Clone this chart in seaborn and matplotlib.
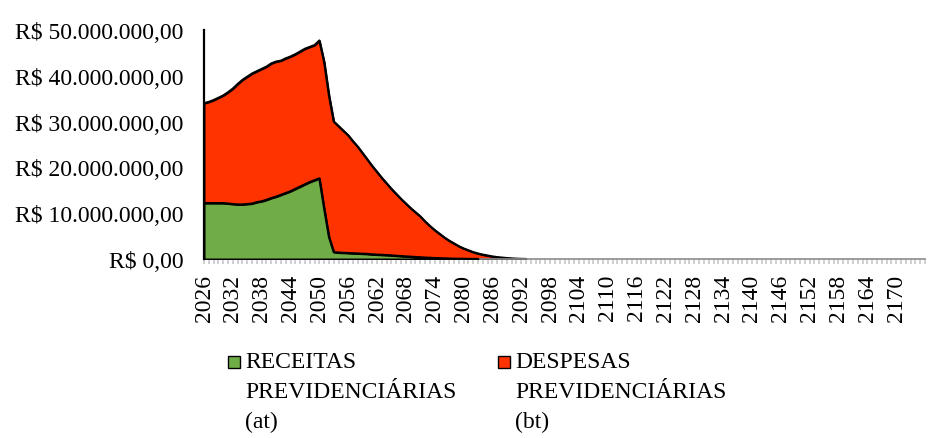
import matplotlib
matplotlib.use("Agg")
import matplotlib.pyplot as plt
import seaborn as sns
import pandas as pd
import numpy as np
from matplotlib.patches import Rectangle
from matplotlib.ticker import FuncFormatter, FixedLocator, MultipleLocator

# ---------------- data (values in millions of R$) ----------------
first_year = 2026
last_year = 2176

receitas_mi = [
    12.2, 12.2, 12.2, 12.2, 12.2, 12.1, 12.0, 11.9, 11.9, 12.0,   # 2026-2035
    12.1, 12.4, 12.6, 12.9, 13.3, 13.6, 14.0, 14.4, 14.8, 15.3,   # 2036-2045
    15.8, 16.3, 16.8, 17.2, 17.6, 11.0, 4.8, 1.5, 1.4, 1.35,      # 2046-2055
    1.3, 1.25, 1.2, 1.15, 1.1, 1.0, 0.95, 0.9, 0.85, 0.78,        # 2056-2065
    0.7, 0.63, 0.56, 0.5, 0.43, 0.37, 0.31, 0.26, 0.21, 0.17,     # 2066-2075
    0.13, 0.1, 0.07, 0.05, 0.03, 0.02, 0.01, 0.0,                 # 2076-2083
]

despesas_mi = [
    34.0, 34.3, 34.7, 35.2, 35.7, 36.4, 37.2, 38.2, 39.1, 39.8,   # 2026-2035
    40.5, 41.0, 41.5, 42.0, 42.7, 43.1, 43.3, 43.8, 44.2, 44.7,   # 2036-2045
    45.3, 45.9, 46.3, 46.7, 47.7, 43.0, 35.7, 30.0, 29.0, 28.0,   # 2046-2055
    27.0, 25.7, 24.5, 23.1, 21.7, 20.3, 19.0, 17.7, 16.5, 15.3,   # 2056-2065
    14.2, 13.1, 12.1, 11.1, 10.2, 9.3, 8.2, 7.2, 6.3, 5.5,        # 2066-2075
    4.7, 4.0, 3.4, 2.8, 2.3, 1.9, 1.5, 1.2, 0.95, 0.75,           # 2076-2085
    0.55, 0.4, 0.3, 0.2, 0.12, 0.06, 0.02, 0.0,                   # 2086-2093
]

tick_years = list(range(2026, 2171, 6))
y_ticks_mi = [0, 10, 20, 30, 40, 50]
legend_labels = ["RECEITAS\nPREVIDENCIÁRIAS\n(at)", "DESPESAS\nPREVIDENCIÁRIAS\n(bt)"]

GREEN = "#70AD47"
RED = "#FF3300"

# ---------------- figure ----------------
sns.set_theme(style="white")
plt.rcParams["font.family"] = ["Liberation Serif", "DejaVu Serif"]
FS = 17

W, H = 929, 439
fig = plt.figure(figsize=(W / 100, H / 100), dpi=100)
ax = fig.add_axes([204 / W, 1 - 260 / H, (925 - 204) / W, (260 - 31) / H])

df_d = pd.DataFrame({"ano": np.arange(first_year, first_year + len(despesas_mi)),
                     "valor": np.array(despesas_mi) * 1e6})
df_r = pd.DataFrame({"ano": np.arange(first_year, first_year + len(receitas_mi)),
                     "valor": np.array(receitas_mi) * 1e6})

for df, col, z in [(df_d, RED, 2), (df_r, GREEN, 4)]:
    ax.fill_between(df["ano"], df["valor"], 0, facecolor=col, edgecolor="black",
                    linewidth=1.4, joinstyle="round", zorder=z)
    sns.lineplot(data=df, x="ano", y="valor", color="black", linewidth=1.6,
                 ax=ax, zorder=z + 0.5, solid_joinstyle="round")

ax.set_xlim(first_year, last_year)
ax.set_ylim(0, 50e6)
ax.set_xlabel("")
ax.set_ylabel("")

# y axis
def fmt(v, pos):
    if v == 0:
        return "R$ 0,00"
    s = f"{v:,.2f}".replace(",", "X").replace(".", ",").replace("X", ".")
    return "R$ " + s

ax.yaxis.set_major_locator(FixedLocator([v * 1e6 for v in y_ticks_mi]))
ax.yaxis.set_major_formatter(FuncFormatter(fmt))
ax.tick_params(axis="y", length=0, pad=15, labelsize=FS, labelcolor="black")

# x axis
ax.xaxis.set_major_locator(FixedLocator(tick_years))
ax.xaxis.set_minor_locator(MultipleLocator(1))
ax.set_xticklabels([str(y) for y in tick_years], rotation=90)
ax.tick_params(axis="x", which="both", direction="out", length=3.5, width=1.2,
               color="#C8C8C8", bottom=True)
ax.tick_params(axis="x", which="major", labelsize=FS, pad=7, labelcolor="black")

for s in ["top", "right"]:
    ax.spines[s].set_visible(False)
ax.spines["left"].set_color("black")
ax.spines["left"].set_linewidth(1.6)
ax.spines["left"].set_zorder(6)
ax.spines["bottom"].set_color("#8C8C8C")
ax.spines["bottom"].set_linewidth(1.2)
ax.grid(False)

# legend (manual, handles aligned with first line)
for (x_sq, x_tx), col, lab in [((228, 245), GREEN, legend_labels[0]),
                               ((498, 515), RED, legend_labels[1])]:
    fig.patches.append(Rectangle((x_sq / W, 1 - 369 / H), 12 / W, 12 / H,
                                 transform=fig.transFigure, facecolor=col,
                                 edgecolor="black", linewidth=1.0))
    fig.text(x_tx / W, 1 - 352 / H, lab, ha="left", va="top", fontsize=FS,
             linespacing=1.55, color="black")

fig.savefig("out.png", dpi=100)
